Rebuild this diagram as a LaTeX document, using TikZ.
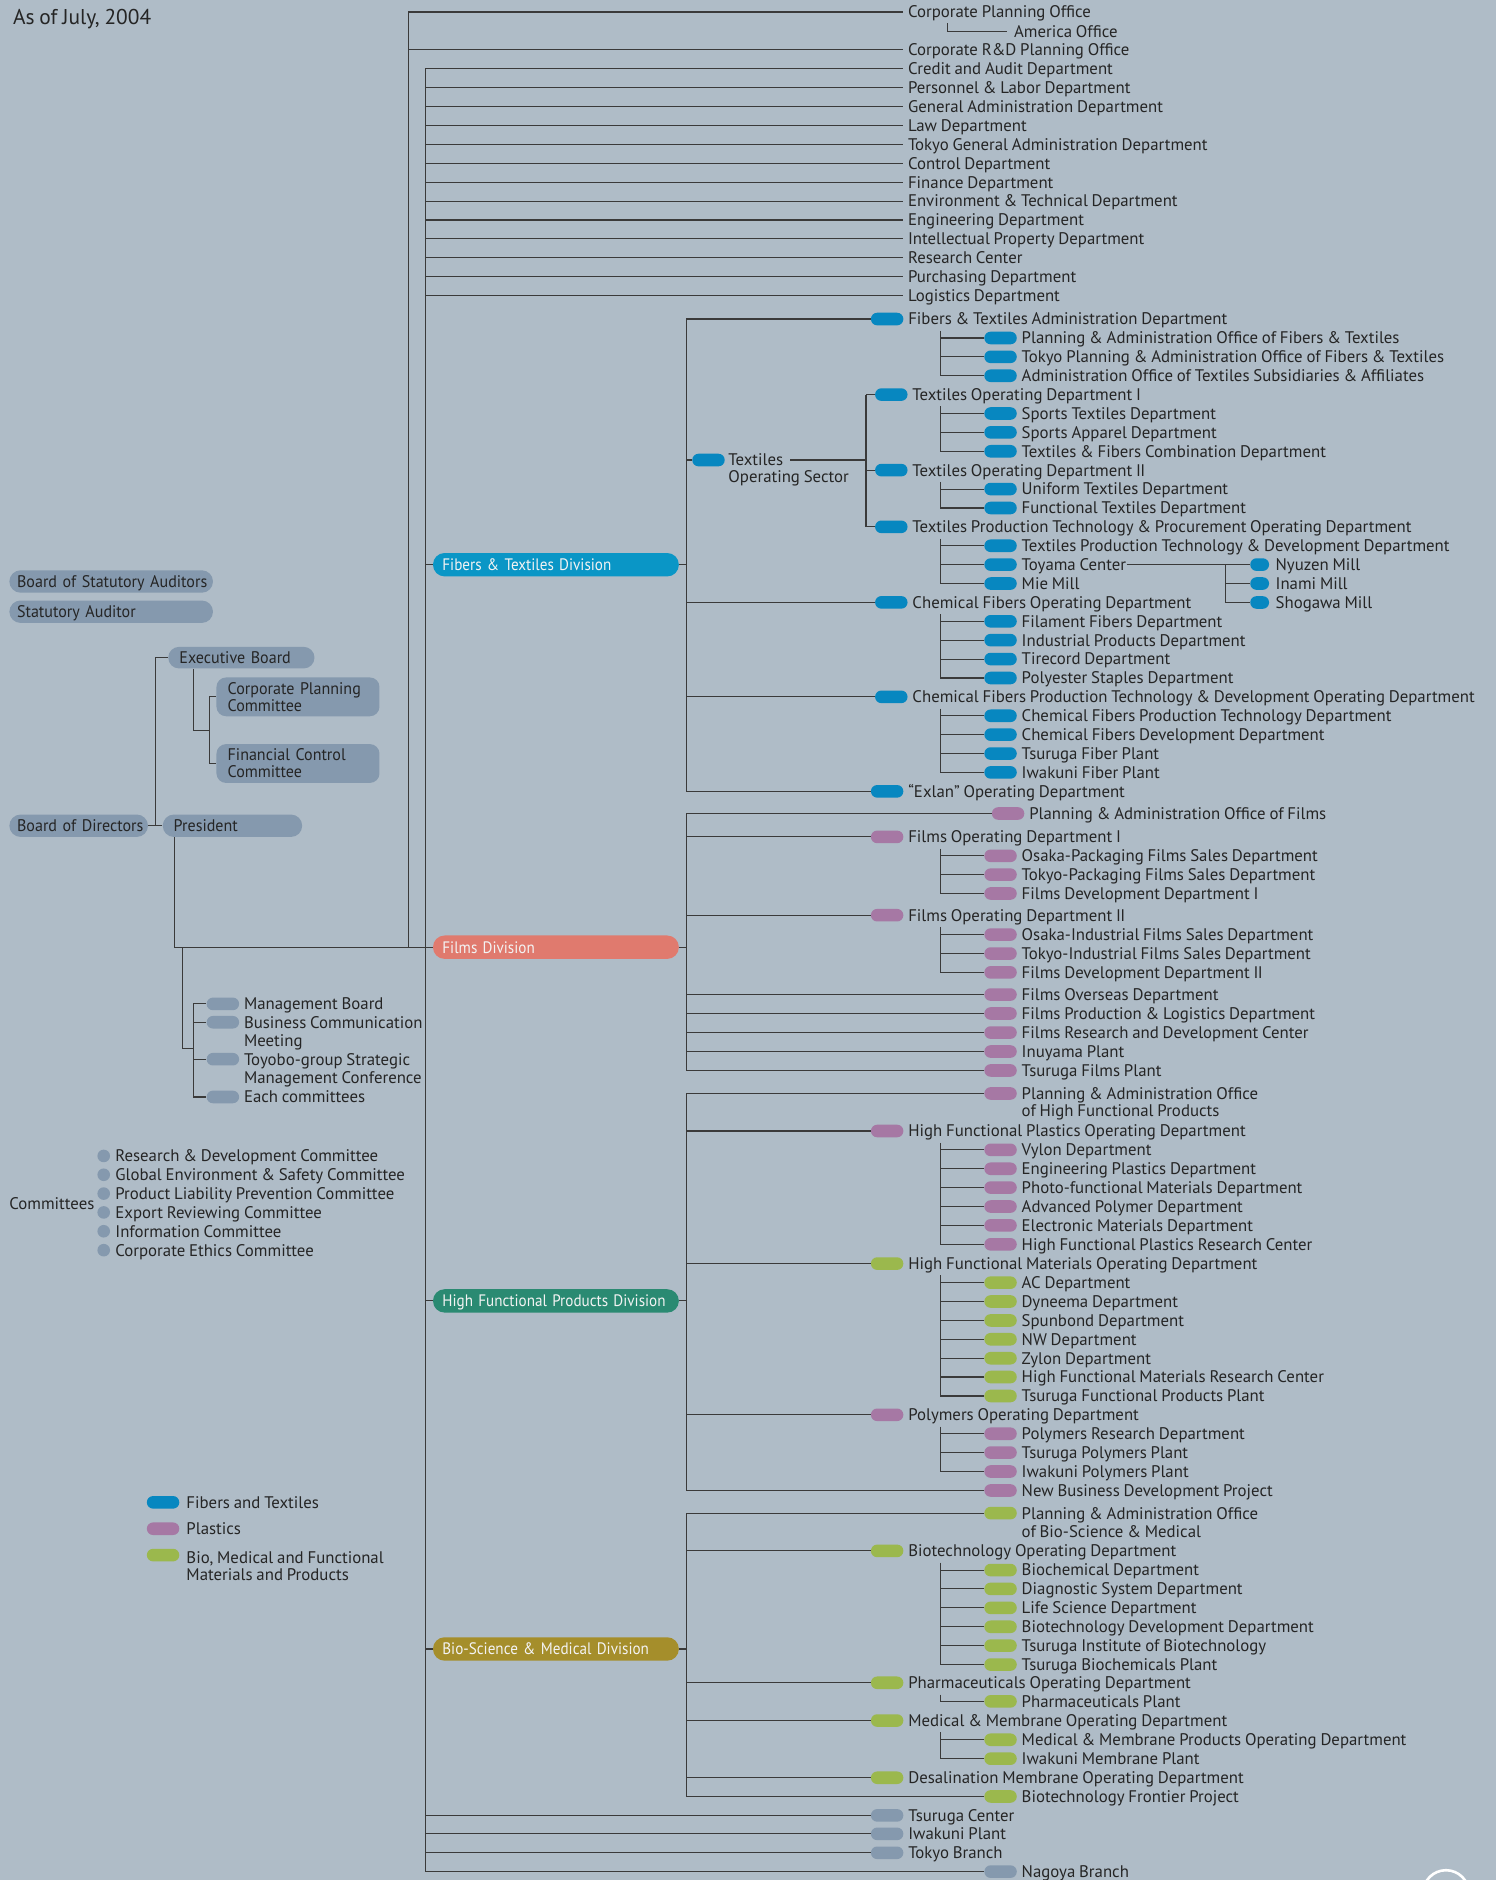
\documentclass[tikz,border=0pt]{standalone}
\usepackage{graphicx}
\usepackage{fontspec}
\setmainfont[WordSpace=0.85]{PT Sans}
\newfontfamily\condfont[FakeStretch=0.955, WordSpace=0.85]{PT Sans}
\newfontfamily\divfont[FakeStretch=0.95, WordSpace=0.6]{PT Sans}
\definecolor{bgc}{HTML}{AFBCC7}
\definecolor{lnc}{HTML}{3A3A3A}
\definecolor{txc}{HTML}{252525}
\definecolor{cblue}{HTML}{0787C0}
\definecolor{cdivblue}{HTML}{0A96C6}
\definecolor{cpur}{HTML}{A678A4}
\definecolor{cgrn}{HTML}{9BB84D}
\definecolor{cgry}{HTML}{8599AE}
\definecolor{cfilm}{HTML}{E07A6E}
\definecolor{chfp}{HTML}{2A8A72}
\definecolor{cbio}{HTML}{A58E2B}
\definecolor{cdivtx}{HTML}{F3F3F3}
\newcommand\fs{\fontsize{8.4}{8.4}\selectfont}
\newcommand\fsd{\divfont\fontsize{8.3}{8.3}\selectfont}
\newcommand\fsg{\condfont\fontsize{8.4}{8.4}\selectfont}
\newcommand\dvtext[1]{\scalebox{0.96}[1]{#1}}
\tikzset{
 ln/.style={draw=lnc, line width=0.55pt},
 lbl/.style={anchor=west, inner sep=0pt, text height=5.9pt, text depth=0pt, text=txc, font=\fs},
 spill/.style={rectangle, rounded corners=3.1pt, minimum width=16.2pt, minimum height=6.3pt, inner sep=0pt},
 mpill/.style={spill, minimum width=9.4pt},
 dotc/.style={circle, minimum size=6.3pt, inner sep=0pt, fill=cgry},
 divpill/.style={rectangle, anchor=west, rounded corners=5.8pt, minimum height=11.7pt, text width=113.5pt, inner xsep=4.7pt, inner ysep=0pt, align=left, text=cdivtx, font=\fsd, text height=6pt, text depth=0pt},
 gpill/.style={rectangle, anchor=west, fill=cgry, align=left, inner ysep=0pt, text=txc, font=\fsg},
 gp1/.style={gpill, text height=5.9pt, text depth=0pt, minimum height=11.2pt, rounded corners=5.6pt},
}
\newcommand\mkP[5]{\node[spill,fill=#4] (#1) at (#2+13.5,#3) {};\node[lbl] (#1t) at (#2+30.8,#3) {#5};}
\newcommand\mkT[4]{\node[lbl] (#1) at (757,#3) {#4};\draw[ln] (#2 |- #1.west) -- ([xshift=-2.4pt]#1.west);}
\newcommand\brc[2]{\draw[ln] (#1 |- #2.west) -- (#2.west);}
\newcommand\subtr[2]{\path ([yshift=-5.9pt]#1.center) coordinate (tmp);\draw[ln] (subx |- tmp) -- (subx |- #2.west);}
\begin{document}
\begin{tikzpicture}[x=0.59936pt,y=-0.59936pt]
\useasboundingbox (0,0) rectangle (1248,1568);
\fill[bgc] (0,0) rectangle (1248,1568);
\coordinate (spineA) at (340.6,10);
\coordinate (spineB) at (354.6,57.3);
\coordinate (fibX) at (572.5,0);
\coordinate (subx) at (784.2,0);
\coordinate (secX) at (722.3,0);
\coordinate (millX) at (1022.1,0);

\node[anchor=west, inner sep=0pt, text=txc, font=\fontsize{10.7}{10.7}\selectfont, text height=7.5pt, text depth=0pt] (title) at (10.6,14.3) {As of July, 2004};

% ---------- top offices on spine A
\mkT{cpo}{spineA}{10}{Corporate Planning Office}
\mkT{rnd}{spineA}{41.6}{Corporate R\&D Planning Office}
\node[lbl] (ame) at (845.4,26.5) {America Office};
\coordinate (amtop) at (790,19.5);
\draw[ln] (amtop) |- ([xshift=-3.3pt]ame.west);

% ---------- staff departments on spine B
\mkT{cad}{spineB}{57.3}{Credit and Audit Department}
\mkT{per}{spineB}{73.1}{Personnel \& Labor Department}
\mkT{gad}{spineB}{88.9}{General Administration Department}
\mkT{law}{spineB}{104.6}{Law Department}
\mkT{tga}{spineB}{120.4}{Tokyo General Administration Department}
\mkT{ctl}{spineB}{136.2}{Control Department}
\mkT{fin}{spineB}{151.9}{Finance Department}
\mkT{env}{spineB}{167.7}{Environment \& Technical Department}
\mkT{eng}{spineB}{183.5}{Engineering Department}
\mkT{ipd}{spineB}{199.2}{Intellectual Property Department}
\mkT{rsc}{spineB}{215.0}{Research Center}
\mkT{pur}{spineB}{230.8}{Purchasing Department}
\mkT{log}{spineB}{246.6}{Logistics Department}

% ---------- Fibers & Textiles
\node[divpill,fill=cdivblue] (fdiv) at (360.8,471) {\dvtext{Fibers \& Textiles Division}};
\mkP{fa}{726.4}{266.1}{cblue}{Fibers \& Textiles Administration Department}
\mkP{fa1}{821}{281.9}{cblue}{Planning \& Administration Office of Fibers \& Textiles}
\mkP{fa2}{821}{297.6}{cblue}{Tokyo Planning \& Administration Office of Fibers \& Textiles}
\mkP{fa3}{821}{313.4}{cblue}{Administration Office of Textiles Subsidiaries \& Affiliates}
\node[spill,fill=cblue] (tos) at (590.9,383.7) {};
\node[lbl] (tosa) at (607.2,383.7) {Textiles};
\node[lbl] (tosb) at (607.2,397.1) {Operating Sector};
\mkP{to1}{729.9}{329.1}{cblue}{Textiles Operating Department I}
\mkP{to11}{821}{344.9}{cblue}{Sports Textiles Department}
\mkP{to12}{821}{360.6}{cblue}{Sports Apparel Department}
\mkP{to13}{821}{376.4}{cblue}{Textiles \& Fibers Combination Department}
\mkP{to2}{729.9}{392.1}{cblue}{Textiles Operating Department I\kern-0.3ptI}
\mkP{to21}{821}{407.9}{cblue}{Uniform Textiles Department}
\mkP{to22}{821}{423.7}{cblue}{Functional Textiles Department}
\mkP{tp}{729.9}{439.4}{cblue}{Textiles Production Technology \& Procurement Operating Department}
\mkP{tp1}{821}{455.2}{cblue}{Textiles Production Technology \& Development Department}
\mkP{tp2}{821}{470.9}{cblue}{Toyama Center}
\mkP{tp3}{821}{486.7}{cblue}{Mie Mill}
\node[mpill,fill=cblue] (nyu) at (1050.6,470.9) {};
\node[lbl] (nyut) at (1063.6,470.9) {Nyuzen Mill};
\node[mpill,fill=cblue] (ina) at (1050.6,486.7) {};
\node[lbl] (inat) at (1063.6,486.7) {Inami Mill};
\node[mpill,fill=cblue] (sho) at (1050.6,502.5) {};
\node[lbl] (shot) at (1063.6,502.5) {Shogawa Mill};
\mkP{cf}{729.9}{502.4}{cblue}{Chemical Fibers Operating Department}
\mkP{cf1}{821}{518.2}{cblue}{Filament Fibers Department}
\mkP{cf2}{821}{533.9}{cblue}{Industrial Products Department}
\mkP{cf3}{821}{549.7}{cblue}{Tirecord Department}
\mkP{cf4}{821}{565.5}{cblue}{Polyester Staples Department}
\mkP{cp}{729.9}{581.2}{cblue}{Chemical Fibers Production Technology \& Development Operating Department}
\mkP{cp1}{821}{597.0}{cblue}{Chemical Fibers Production Technology Department}
\mkP{cp2}{821}{612.7}{cblue}{Chemical Fibers Development Department}
\mkP{cp3}{821}{628.5}{cblue}{Tsuruga Fiber Plant}
\mkP{cp4}{821}{644.2}{cblue}{Iwakuni Fiber Plant}
\mkP{exl}{726.4}{660}{cblue}{“Exlan” Operating Department}

\draw[ln] (spineB |- fdiv.west) -- (fdiv.west);
\draw[ln] (fdiv.east) -- (fibX |- fdiv.east);
\draw[ln] (fibX |- fa.west) -- (fibX |- exl.west);
\brc{fibX}{fa} \brc{fibX}{tos} \brc{fibX}{cf} \brc{fibX}{cp} \brc{fibX}{exl}
\subtr{fa}{fa3} \brc{subx}{fa1} \brc{subx}{fa2} \brc{subx}{fa3}
\draw[ln] ([xshift=3.4pt]tosa.east) -- (secX |- tosa.east);
\draw[ln] (secX |- to1.west) -- (secX |- tp.west);
\brc{secX}{to1} \brc{secX}{to2} \brc{secX}{tp}
\subtr{to1}{to13} \brc{subx}{to11} \brc{subx}{to12} \brc{subx}{to13}
\subtr{to2}{to22} \brc{subx}{to21} \brc{subx}{to22}
\subtr{tp}{tp3} \brc{subx}{tp1} \brc{subx}{tp2} \brc{subx}{tp3}
\draw[ln] (tp2t.east) -- (nyu.west);
\draw[ln] (millX |- nyu.west) -- (millX |- sho.west);
\brc{millX}{ina} \brc{millX}{sho}
\subtr{cf}{cf4} \brc{subx}{cf1} \brc{subx}{cf2} \brc{subx}{cf3} \brc{subx}{cf4}
\subtr{cp}{cp4} \brc{subx}{cp1} \brc{subx}{cp2} \brc{subx}{cp3} \brc{subx}{cp4}

% ---------- Films
\node[divpill,fill=cfilm] (fdv) at (360.8,790) {\dvtext{Films Division}};
\mkP{fpa}{827.3}{678.5}{cpur}{Planning \& Administration Office of Films}
\mkP{fo1}{726.4}{698}{cpur}{Films Operating Department I}
\mkP{fo11}{821}{713.8}{cpur}{Osaka-Packaging Films Sales Department}
\mkP{fo12}{821}{729.5}{cpur}{Tokyo-Packaging Films Sales Department}
\mkP{fo13}{821}{745.2}{cpur}{Films Development Department I}
\mkP{fo2}{726.4}{763.3}{cpur}{Films Operating Department I\kern-0.3ptI}
\mkP{fo21}{821}{779.5}{cpur}{Osaka-Industrial Films Sales Department}
\mkP{fo22}{821}{795.3}{cpur}{Tokyo-Industrial Films Sales Department}
\mkP{fo23}{821}{811}{cpur}{Films Development Department I\kern-0.3ptI}
\mkP{fov}{821}{829.5}{cpur}{Films Overseas Department}
\mkP{fpl}{821}{845.3}{cpur}{Films Production \& Logistics Department}
\mkP{frd}{821}{861.2}{cpur}{Films Research and Development Center}
\mkP{inu}{821}{877}{cpur}{Inuyama Plant}
\mkP{tfp}{821}{892.8}{cpur}{Tsuruga Films Plant}
\draw[ln] (fdv.east) -- (fibX |- fdv.east);
\draw[ln] (fibX |- fpa.west) -- (fibX |- tfp.west);
\brc{fibX}{fpa} \brc{fibX}{fo1} \brc{fibX}{fo2} \brc{fibX}{fov} \brc{fibX}{fpl} \brc{fibX}{frd} \brc{fibX}{inu} \brc{fibX}{tfp}
\subtr{fo1}{fo13} \brc{subx}{fo11} \brc{subx}{fo12} \brc{subx}{fo13}
\subtr{fo2}{fo23} \brc{subx}{fo21} \brc{subx}{fo22} \brc{subx}{fo23}

% ---------- High Functional Products
\node[divpill,fill=chfp] (hdv) at (360.8,1085) {\dvtext{High Functional Products Division}};
\mkP{hpa}{821}{912}{cpur}{Planning \& Administration Office}
\node[lbl] (hpab) at (851.8,926) {of High Functional Products};
\mkP{hpo}{726.4}{943.3}{cpur}{High Functional Plastics Operating Department}
\mkP{hpo1}{821}{959}{cpur}{Vylon Department}
\mkP{hpo2}{821}{974.8}{cpur}{Engineering Plastics Department}
\mkP{hpo3}{821}{990.5}{cpur}{Photo-functional Materials Department}
\mkP{hpo4}{821}{1006.3}{cpur}{Advanced Polymer Department}
\mkP{hpo5}{821}{1022}{cpur}{Electronic Materials Department}
\mkP{hpo6}{821}{1037.8}{cpur}{High Functional Plastics Research Center}
\mkP{hmo}{726.4}{1053.9}{cgrn}{High Functional Materials Operating Department}
\mkP{hmo1}{821}{1069.8}{cgrn}{AC Department}
\mkP{hmo2}{821}{1085.5}{cgrn}{Dyneema Department}
\mkP{hmo3}{821}{1101.3}{cgrn}{Spunbond Department}
\mkP{hmo4}{821}{1117}{cgrn}{NW Department}
\mkP{hmo5}{821}{1132.8}{cgrn}{Zylon Department}
\mkP{hmo6}{821}{1148.5}{cgrn}{High Functional Materials Research Center}
\mkP{hmo7}{821}{1164.3}{cgrn}{Tsuruga Functional Products Plant}
\mkP{pol}{726.4}{1180}{cpur}{Polymers Operating Department}
\mkP{pol1}{821}{1195.8}{cpur}{Polymers Research Department}
\mkP{pol2}{821}{1211.5}{cpur}{Tsuruga Polymers Plant}
\mkP{pol3}{821}{1227.3}{cpur}{Iwakuni Polymers Plant}
\mkP{nbd}{821}{1243.1}{cpur}{New Business Development Project}
\draw[ln] (spineB |- hdv.west) -- (hdv.west);
\draw[ln] (hdv.east) -- (fibX |- hdv.east);
\draw[ln] (fibX |- hpa.west) -- (fibX |- nbd.west);
\brc{fibX}{hpa} \brc{fibX}{hpo} \brc{fibX}{hmo} \brc{fibX}{pol} \brc{fibX}{nbd}
\subtr{hpo}{hpo6} \brc{subx}{hpo1} \brc{subx}{hpo2} \brc{subx}{hpo3} \brc{subx}{hpo4} \brc{subx}{hpo5} \brc{subx}{hpo6}
\subtr{hmo}{hmo7} \brc{subx}{hmo1} \brc{subx}{hmo2} \brc{subx}{hmo3} \brc{subx}{hmo4} \brc{subx}{hmo5} \brc{subx}{hmo6} \brc{subx}{hmo7}
\subtr{pol}{pol3} \brc{subx}{pol1} \brc{subx}{pol2} \brc{subx}{pol3}

% ---------- Bio-Science & Medical
\node[divpill,fill=cbio] (bdv) at (360.8,1375.3) {\dvtext{Bio-Science \& Medical Division}};
\mkP{bpa}{821}{1262}{cgrn}{Planning \& Administration Office}
\node[lbl] (bpab) at (851.8,1277) {of Bio-Science \& Medical};
\mkP{bio}{726.4}{1293.5}{cgrn}{Biotechnology Operating Department}
\mkP{bio1}{821}{1309.5}{cgrn}{Biochemical Department}
\mkP{bio2}{821}{1325.2}{cgrn}{Diagnostic System Department}
\mkP{bio3}{821}{1341}{cgrn}{Life Science Department}
\mkP{bio4}{821}{1356.8}{cgrn}{Biotechnology Development Department}
\mkP{bio5}{821}{1372.5}{cgrn}{Tsuruga Institute of Biotechnology}
\mkP{bio6}{821}{1388.3}{cgrn}{Tsuruga Biochemicals Plant}
\mkP{pha}{726.4}{1403.5}{cgrn}{Pharmaceuticals Operating Department}
\mkP{pha1}{821}{1419}{cgrn}{Pharmaceuticals Plant}
\mkP{mem}{726.4}{1435}{cgrn}{Medical \& Membrane Operating Department}
\mkP{mem1}{821}{1451}{cgrn}{Medical \& Membrane Products Operating Department}
\mkP{mem2}{821}{1466.8}{cgrn}{Iwakuni Membrane Plant}
\mkP{des}{726.4}{1482.7}{cgrn}{Desalination Membrane Operating Department}
\mkP{bfp}{821}{1498.3}{cgrn}{Biotechnology Frontier Project}
\draw[ln] (spineB |- bdv.west) -- (bdv.west);
\draw[ln] (bdv.east) -- (fibX |- bdv.east);
\draw[ln] (fibX |- bpa.west) -- (fibX |- bfp.west);
\brc{fibX}{bpa} \brc{fibX}{bio} \brc{fibX}{pha} \brc{fibX}{mem} \brc{fibX}{des} \brc{fibX}{bfp}
\subtr{bio}{bio6} \brc{subx}{bio1} \brc{subx}{bio2} \brc{subx}{bio3} \brc{subx}{bio4} \brc{subx}{bio5} \brc{subx}{bio6}
\subtr{pha}{pha1} \brc{subx}{pha1}
\subtr{mem}{mem2} \brc{subx}{mem1} \brc{subx}{mem2}

% ---------- branches and plants
\mkP{tsc}{726.4}{1514.1}{cgry}{Tsuruga Center}
\mkP{iwp}{726.4}{1529.5}{cgry}{Iwakuni Plant}
\mkP{tkb}{726.4}{1545.3}{cgry}{Tokyo Branch}
\mkP{ngb}{821}{1561}{cgry}{Nagoya Branch}
\brc{spineB}{tsc} \brc{spineB}{iwp} \brc{spineB}{tkb} \brc{spineB}{ngb}

% ---------- spines
\draw[ln] (spineA) -- (spineA |- fdv.west);
\draw[ln] (spineB) -- (spineB |- ngb.west);

% ---------- left: boards
\node[gp1, text width=94.1pt, inner xsep=3.84pt] (bsa) at (7.5,485) {\mbox{Board of Statutory Auditors}};
\node[gp1, text width=94.1pt, inner xsep=3.84pt] (sa) at (7.5,510.2) {\mbox{Statutory Auditor}};
\node[gp1, text width=61.9pt, inner xsep=5.6pt, minimum height=10.8pt, rounded corners=5.4pt] (exe) at (140,548.5) {\mbox{Executive Board}};
\node[gpill, text width=70.3pt, inner xsep=5.6pt, minimum height=19.4pt, rounded corners=4.8pt] (cpc) at (180.2,581.2) {Corporate Planning\\Committee};
\node[gpill, text width=70.3pt, inner xsep=5.6pt, minimum height=19.4pt, rounded corners=4.8pt] (fcc) at (180.2,636.8) {Financial Control\\Committee};
\node[gp1, text width=61.6pt, inner xsep=3.84pt] (bod) at (7.5,688.7) {\mbox{Board of Directors}};
\node[gp1, text width=58.7pt, inner xsep=5.5pt] (pres) at (135.4,688.7) {\mbox{President}};
\coordinate (bX) at (129.9,0);
\coordinate (eX) at (161.3,0);
\coordinate (cj) at (174.6,609.5);
\coordinate (pX) at (145.7,0);
\coordinate (mX) at (152.4,0);
\coordinate (mj) at (161.3,874.8);
\draw[ln] (bod.east) -- (pres.west);
\draw[ln] (exe.west) -| (bX |- bod.east);
\draw[ln] (eX |- exe.south) |- (cj);
\draw[ln] (cpc.west) -| (cj) |- (fcc.west);
\draw[ln] (pX |- pres.south) |- (fdv.west);

% ---------- management meetings
\mkP{mb}{172.4}{837.3}{cgry}{Management Board}
\mkP{bc}{172.4}{852.6}{cgry}{Business Communication}
\node[lbl] (bcb) at (203.2,867.9) {Meeting};
\mkP{tsm}{172.4}{883.4}{cgry}{Toyobo-group Strategic}
\node[lbl] (tsmb) at (203.2,898.5) {Management Conference};
\mkP{ec}{172.4}{914.9}{cgry}{Each committees}
\draw[ln] (mX |- fdv.west) |- (mj);
\draw[ln] (mj |- mb.west) -- (mj |- ec.west);
\brc{mj}{mb} \brc{mj}{bc} \brc{mj}{tsm} \brc{mj}{ec}

% ---------- committees
\node[lbl] (cmt) at (7.5,1003.8) {Committees};
\node[dotc] (c1) at (86.5,964.1) {}; \node[lbl] (c1t) at (95.9,964.1) {Research \& Development Committee};
\node[dotc] (c2) at (86.5,979.8) {}; \node[lbl] (c2t) at (95.9,979.8) {Global Environment \& Safety Committee};
\node[dotc] (c3) at (86.5,995.5) {}; \node[lbl] (c3t) at (95.9,995.5) {Product Liability Prevention Committee};
\node[dotc] (c4) at (86.5,1011.2) {}; \node[lbl] (c4t) at (95.9,1011.2) {Export Reviewing Committee};
\node[dotc] (c5) at (86.5,1026.9) {}; \node[lbl] (c5t) at (95.9,1026.9) {Information Committee};
\node[dotc] (c6) at (86.5,1042.7) {}; \node[lbl] (c6t) at (95.9,1042.7) {Corporate Ethics Committee};

% ---------- legend
\node[spill,fill=cblue] (lg1) at (136,1253) {}; \node[lbl] (lg1t) at (155.2,1253) {Fibers and Textiles};
\node[spill,fill=cpur] (lg2) at (136,1275) {}; \node[lbl] (lg2t) at (155.2,1275) {Plastics};
\node[spill,fill=cgrn] (lg3) at (136,1297) {}; \node[lbl] (lg3t) at (155.2,1299.2) {Bio, Medical and Functional};
\node[lbl] (lg3b) at (155.2,1313.1) {Materials and Products};

% ---------- corner mark
\draw[white, line width=1.3pt] (1206,1579) circle[radius=11.5pt];
\end{tikzpicture}
\end{document}
